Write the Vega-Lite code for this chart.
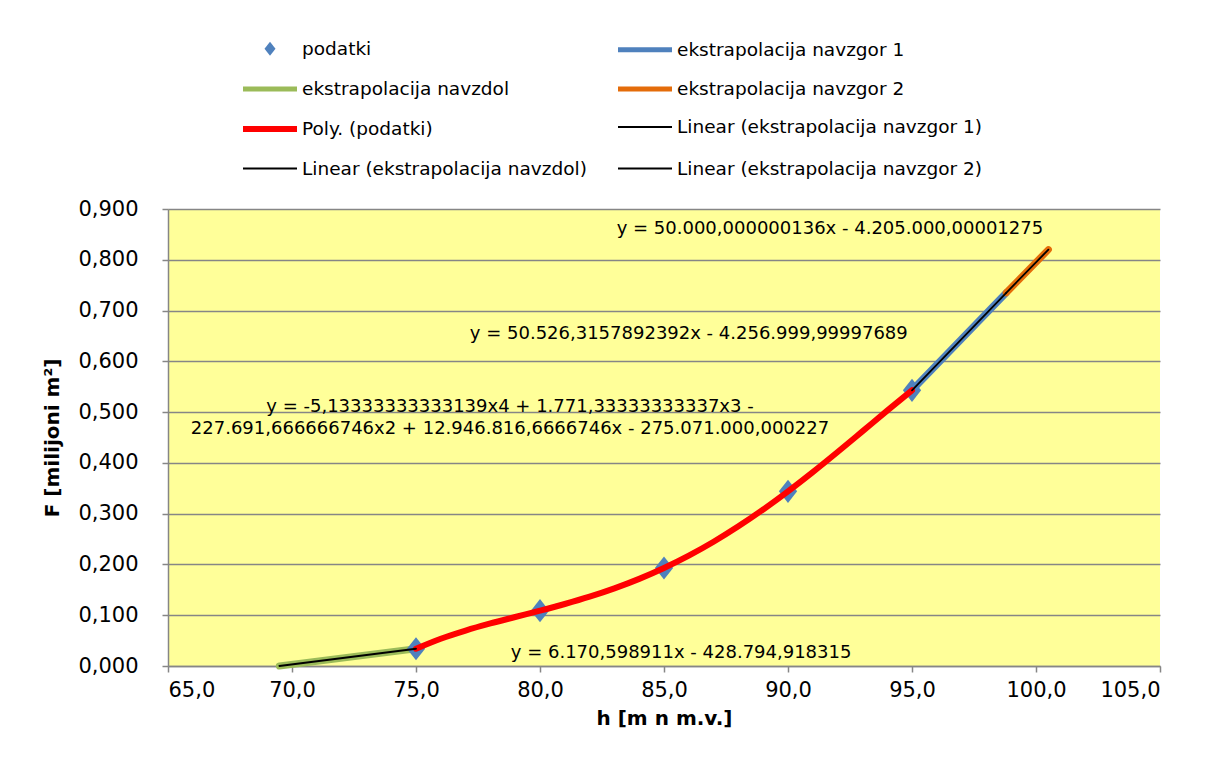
{
  "$schema": "https://vega.github.io/schema/vega-lite/v6.json",
  "width": 992,
  "height": 457,
  "autosize": {"type": "none"},
  "padding": {"left": 168, "top": 209, "right": 49, "bottom": 114},
  "background": "white",
  "config": {
    "font": "DejaVu Sans",
    "view": {"fill": "#FFFF99", "stroke": null}
  },
  "data": {
    "values": [
      {"series": "podatki", "h": 75, "F": 0.034},
      {"series": "podatki", "h": 80, "F": 0.109},
      {"series": "podatki", "h": 85, "F": 0.193},
      {"series": "podatki", "h": 90, "F": 0.344},
      {"series": "podatki", "h": 95, "F": 0.543},
      {"series": "ekstrapolacija navzdol", "h": 69.49, "F": 0.0},
      {"series": "ekstrapolacija navzdol", "h": 75, "F": 0.034},
      {"series": "ekstrapolacija navzgor 1", "h": 95, "F": 0.543},
      {"series": "ekstrapolacija navzgor 1", "h": 98.8, "F": 0.735},
      {"series": "ekstrapolacija navzgor 2", "h": 98.8, "F": 0.735},
      {"series": "ekstrapolacija navzgor 2", "h": 100.5, "F": 0.82},
      {"series": "Poly. (podatki)", "h": 75, "F": 0.034},
      {"series": "Poly. (podatki)", "h": 76, "F": 0.0537},
      {"series": "Poly. (podatki)", "h": 77, "F": 0.0698},
      {"series": "Poly. (podatki)", "h": 78, "F": 0.0838},
      {"series": "Poly. (podatki)", "h": 79, "F": 0.0965},
      {"series": "Poly. (podatki)", "h": 80, "F": 0.109},
      {"series": "Poly. (podatki)", "h": 81, "F": 0.1221},
      {"series": "Poly. (podatki)", "h": 82, "F": 0.1365},
      {"series": "Poly. (podatki)", "h": 83, "F": 0.1529},
      {"series": "Poly. (podatki)", "h": 84, "F": 0.1716},
      {"series": "Poly. (podatki)", "h": 85, "F": 0.193},
      {"series": "Poly. (podatki)", "h": 86, "F": 0.2173},
      {"series": "Poly. (podatki)", "h": 87, "F": 0.2447},
      {"series": "Poly. (podatki)", "h": 88, "F": 0.2751},
      {"series": "Poly. (podatki)", "h": 89, "F": 0.3082},
      {"series": "Poly. (podatki)", "h": 90, "F": 0.344},
      {"series": "Poly. (podatki)", "h": 91, "F": 0.3819},
      {"series": "Poly. (podatki)", "h": 92, "F": 0.4215},
      {"series": "Poly. (podatki)", "h": 93, "F": 0.4621},
      {"series": "Poly. (podatki)", "h": 94, "F": 0.5029},
      {"series": "Poly. (podatki)", "h": 95, "F": 0.543},
      {"series": "Linear (ekstrapolacija navzdol)", "h": 69.49, "F": 0.0},
      {"series": "Linear (ekstrapolacija navzdol)", "h": 75, "F": 0.034},
      {"series": "Linear (ekstrapolacija navzgor 1)", "h": 95, "F": 0.543},
      {"series": "Linear (ekstrapolacija navzgor 1)", "h": 98.8, "F": 0.735},
      {"series": "Linear (ekstrapolacija navzgor 2)", "h": 98.8, "F": 0.735},
      {"series": "Linear (ekstrapolacija navzgor 2)", "h": 100.5, "F": 0.82}
    ]
  },
  "encoding": {
    "x": {
      "field": "h", "type": "quantitative",
      "scale": {"domain": [65, 105], "nice": false, "zero": false},
      "axis": {
        "title": "h [m n m.v.]",
        "values": [65, 70, 75, 80, 85, 90, 95, 100, 105],
        "labelExpr": "replace(format(datum.value, '.1f'), '.', ',')",
        "grid": false,
        "domainColor": "#868686", "domainWidth": 1.5,
        "tickColor": "#868686", "tickWidth": 1.5, "tickSize": 6,
        "labelFont": "DejaVu Sans", "labelFontSize": 21, "labelColor": "black", "labelPadding": 7,
        "titleFont": "DejaVu Sans", "titleFontSize": 20, "titleFontWeight": "bold", "titleColor": "black", "titlePadding": 8
      }
    },
    "y": {
      "field": "F", "type": "quantitative",
      "scale": {"domain": [0, 0.9], "nice": false},
      "axis": {
        "title": "F [milijoni m²]",
        "values": [0, 0.1, 0.2, 0.3, 0.4, 0.5, 0.6, 0.7, 0.8, 0.9],
        "labelExpr": "replace(format(datum.value, '.3f'), '.', ',')",
        "grid": true, "gridColor": "#868686", "gridWidth": 1.5,
        "domainColor": "#868686", "domainWidth": 1.5,
        "tickColor": "#868686", "tickWidth": 1.5, "tickSize": 6,
        "labelFont": "DejaVu Sans", "labelFontSize": 21, "labelColor": "black", "labelPadding": 24,
        "titleFont": "DejaVu Sans", "titleFontSize": 20, "titleFontWeight": "bold", "titleColor": "black", "titlePadding": 15
      }
    },
    "color": {
      "field": "series", "type": "nominal",
      "scale": {
        "domain": ["podatki", "ekstrapolacija navzgor 1", "ekstrapolacija navzdol", "ekstrapolacija navzgor 2", "Poly. (podatki)", "Linear (ekstrapolacija navzgor 1)", "Linear (ekstrapolacija navzdol)", "Linear (ekstrapolacija navzgor 2)"],
        "range": ["#4f81bd", "#4f81bd", "#9bbb59", "#e46c0a", "#ff0000", "#000000", "#000000", "#000000"]
      },
      "legend": {
        "title": null,
        "orient": "none",
        "direction": "horizontal",
        "legendX": 72,
        "legendY": -172,
        "columns": 2,
        "padding": 0,
        "columnPadding": 21,
        "rowPadding": 16.5,
        "symbolSize": 400,
        "symbolOffset": 17,
        "symbolType": "M-2.7,0H2.7",
        "symbolStrokeWidth": 5,
        "labelOffset": 19,
        "labelFont": "DejaVu Sans",
        "labelFontSize": 18.5,
        "labelColor": "black",
        "labelLimit": 500
      }
    }
  },
  "layer": [
    {
      "transform": [{"filter": {"field": "series", "oneOf": ["ekstrapolacija navzdol", "ekstrapolacija navzgor 1", "ekstrapolacija navzgor 2"]}}],
      "mark": {"type": "line", "strokeCap": "round", "strokeWidth": 7}
    },
    {
      "transform": [{"filter": {"field": "series", "equal": "podatki"}}],
      "mark": {"type": "point", "filled": true, "size": 1100, "opacity": 1},
      "encoding": {
        "shape": {
          "field": "series", "type": "nominal",
          "scale": {
            "domain": ["podatki", "ekstrapolacija navzgor 1", "ekstrapolacija navzdol", "ekstrapolacija navzgor 2", "Poly. (podatki)", "Linear (ekstrapolacija navzgor 1)", "Linear (ekstrapolacija navzdol)", "Linear (ekstrapolacija navzgor 2)"],
            "range": ["M-0.55,0L0,-0.7L0.55,0L0,0.7Z", "M-2.7,0H2.7", "M-2.7,0H2.7", "M-2.7,0H2.7", "M-2.7,0H2.7", "M-2.7,0H2.7", "M-2.7,0H2.7", "M-2.7,0H2.7"]
          }
        }
      }
    },
    {
      "transform": [{"filter": {"field": "series", "equal": "Poly. (podatki)"}}],
      "mark": {"type": "line", "strokeCap": "round", "interpolate": "monotone"},
      "encoding": {
        "strokeWidth": {
          "field": "series", "type": "nominal",
          "scale": {
            "type": "ordinal",
            "domain": ["podatki", "ekstrapolacija navzgor 1", "ekstrapolacija navzdol", "ekstrapolacija navzgor 2", "Poly. (podatki)", "Linear (ekstrapolacija navzgor 1)", "Linear (ekstrapolacija navzdol)", "Linear (ekstrapolacija navzgor 2)"],
            "range": [0, 5, 5, 5, 6, 1.8, 1.8, 1.8]
          }
        }
      }
    },
    {
      "transform": [{"filter": {"field": "series", "oneOf": ["Linear (ekstrapolacija navzdol)", "Linear (ekstrapolacija navzgor 1)", "Linear (ekstrapolacija navzgor 2)"]}}],
      "mark": {"type": "line", "strokeCap": "round"},
      "encoding": {
        "strokeWidth": {
          "field": "series", "type": "nominal",
          "scale": {
            "type": "ordinal",
            "domain": ["podatki", "ekstrapolacija navzgor 1", "ekstrapolacija navzdol", "ekstrapolacija navzgor 2", "Poly. (podatki)", "Linear (ekstrapolacija navzgor 1)", "Linear (ekstrapolacija navzdol)", "Linear (ekstrapolacija navzgor 2)"],
            "range": [0, 5, 5, 5, 6, 1.8, 1.8, 1.8]
          }
        }
      }
    },
    {
      "data": {
        "values": [
          {"label": "y = 50.000,000000136x - 4.205.000,00001275", "h": 91.69, "F": 0.8606},
          {"label": "y = 50.526,3157892392x - 4.256.999,99997689", "h": 86.0, "F": 0.6538},
          {"label": "y = -5,13333333333139x4 + 1.771,33333333337x3 -\n227.691,666666746x2 + 12.946.816,6666746x - 275.071.000,000227", "h": 78.79, "F": 0.51},
          {"label": "y = 6.170,598911x - 428.794,918315", "h": 85.69, "F": 0.0256}
        ]
      },
      "mark": {"type": "text", "font": "DejaVu Sans", "fontSize": 18, "align": "center", "baseline": "middle", "lineBreak": "\n", "lineHeight": 22, "color": "black"},
      "encoding": {
        "text": {"field": "label", "type": "nominal"},
        "color": {"value": "black"}
      }
    }
  ]
}
